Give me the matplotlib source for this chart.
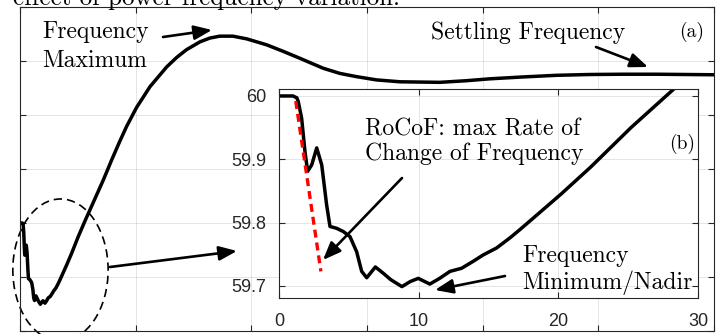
import numpy as np
import matplotlib.pyplot as plt
from matplotlib.patches import Ellipse, FancyArrowPatch

W, H = 722, 334

# frequency response (time in s, frequency in Hz)
# first ~28 s: the detail shown in the inset
t_dip = [0, 1.0, 1.28, 1.38, 1.62, 1.86, 2.05, 2.34, 2.70, 3.06, 3.41, 3.65,
         4.13, 4.60, 5.08, 5.56, 5.92, 6.28, 6.90, 7.47, 8.00, 8.80, 9.40,
         9.97, 10.8, 11.5, 12.24, 13.08, 13.91, 14.62, 15.58, 16.54, 17.25,
         18.04, 20.19, 22.33, 25.2, 28.27]
f_dip = [60.0, 60.0, 59.997, 59.991, 59.965, 59.912, 59.881, 59.891, 59.918,
         59.891, 59.828, 59.794, 59.791, 59.786, 59.778, 59.754, 59.723,
         59.713, 59.730, 59.720, 59.710, 59.699, 59.707, 59.712, 59.703,
         59.712, 59.723, 59.728, 59.739, 59.749, 59.760, 59.776, 59.789,
         59.804, 59.845, 59.888, 59.950, 60.011]
# recovery, overshoot and settling
t_rise = [36.0, 39.6, 43.0, 46.1, 50.4, 56.2, 63.4, 67.7, 72.0, 77.8, 82.1,
          86.4, 92.0, 98.0, 106.6, 113.7, 121.0, 131.1, 138.3, 145.5, 154.1,
          164.2, 181.5, 193.0, 203.1, 217.5, 231.9, 246.3, 260.7, 275.1, 300]
f_rise = [60.159, 60.233, 60.300, 60.358, 60.428, 60.505, 60.578, 60.613,
          60.642, 60.671, 60.685, 60.692, 60.692, 60.682, 60.660, 60.636,
          60.610, 60.573, 60.554, 60.542, 60.530, 60.523, 60.521, 60.527,
          60.534, 60.541, 60.547, 60.550, 60.551, 60.551, 60.549]

t = np.array(t_dip + t_rise)
f = np.array(f_dip + f_rise)

# RoCoF tangent (red dashed)
t_rocof = [1.2, 3.0]
f_rocof = [59.992, 59.723]

main_xticks = np.arange(0, 301, 50)
main_yticks = np.arange(59.6, 60.81, 0.2)
inset_xticks = [0, 10, 20, 30]
inset_yticks = [59.7, 59.8, 59.9, 60.0]
inset_yticklabels = ['59.7', '59.8', '59.9', '60']

ax_col = '#262626'


def fx(x, y):
    # pixel position -> figure fraction
    return (x / W, 1 - y / H)


def style(a):
    a.set_axisbelow(True)
    a.grid(True, color=ax_col, alpha=0.12, lw=0.7)
    a.tick_params(direction='in', length=4, width=0.8, color=ax_col,
                  top=True, right=True, labelcolor=ax_col)
    for s in a.spines.values():
        s.set_color(ax_col)
        s.set_linewidth(0.8)


fig = plt.figure(figsize=(W / 100, H / 100), dpi=100)

# %% main axes (a)
ax = fig.add_axes([20 / W, 1 - 331 / H, 694 / W, 324 / H])
ax.plot(t, f, color='k', lw=2.5, solid_joinstyle='round',
        solid_capstyle='round')
ax.set_xlim(0, 300)
ax.set_ylim(59.6, 60.8)
ax.set_xticks(main_xticks)
ax.set_yticks(main_yticks)
style(ax)
ax.tick_params(labelbottom=False, labelleft=False)

ax.add_patch(Ellipse((17.5, 59.826), 41.2, 0.526, fill=False, ec='k',
                     lw=1.2, ls=(0, (5, 3)), clip_on=False))

# %% inset (b)
ax2 = fig.add_axes([279 / W, 1 - 298 / H, 419 / W, 209 / H])
ax2.plot(t, f, color='k', lw=2.5, solid_joinstyle='round',
         solid_capstyle='round')
ax2.plot(t_rocof, f_rocof, color='red', lw=2.4, dashes=(2.4, 1.5))
ax2.set_xlim(0, 30)
ax2.set_ylim(59.681, 60.011)
ax2.set_xticks(inset_xticks)
ax2.set_yticks(inset_yticks)
ax2.set_yticklabels(inset_yticklabels)
style(ax2)
ax2.tick_params(axis='x', pad=11)
ax2.tick_params(axis='y', pad=9)
for lab in ax2.get_xticklabels() + ax2.get_yticklabels():
    lab.set_fontfamily('Liberation Sans')
    lab.set_fontsize(13)

# %% texts
serif = dict(family='cmr10', fontsize=17, va='baseline', ha='left', color='k')
fig.text(*fx(13, 5), 'effect of power frequency variation.', family='cmr10',
         fontsize=18, va='baseline', ha='left')
fig.text(*fx(42, 38), 'Frequency', **serif)
fig.text(*fx(42, 67), 'Maximum', **serif)
fig.text(*fx(431, 39), 'Settling Frequency', **serif)
fig.text(*fx(365, 135), 'RoCoF: max Rate of', **serif)
fig.text(*fx(365, 160), 'Change of Frequency', **serif)
fig.text(*fx(522, 262), 'Frequency', **serif)
fig.text(*fx(522, 289), 'Minimum/Nadir', **serif)
small = dict(serif, fontsize=14)
fig.text(*fx(679, 37), '(a)', **small)
fig.text(*fx(669, 149), '(b)', **small)


def arrow(x0, y0, x1, y1):
    fig.add_artist(FancyArrowPatch(fx(x0, y0), fx(x1, y1),
                                   transform=fig.transFigure,
                                   arrowstyle='-|>,head_length=0.6,head_width=0.24',
                                   mutation_scale=18, lw=1.9, color='k',
                                   shrinkA=0, shrinkB=0))


arrow(163, 37, 212, 30)
arrow(596, 47, 648, 67)
arrow(110, 267, 237, 251)
arrow(402, 178, 323, 260)
arrow(505, 276, 435, 290)

fig.savefig('out.png', dpi=100)
